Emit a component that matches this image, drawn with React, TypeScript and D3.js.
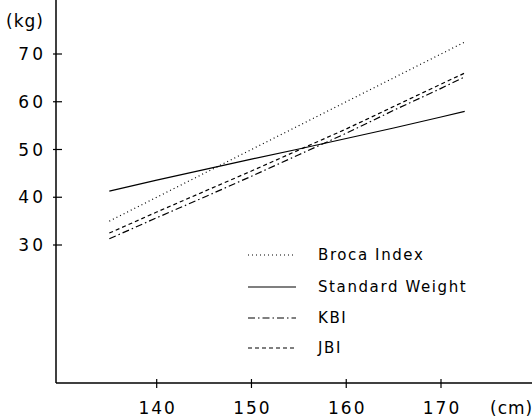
import React from 'react';
import * as d3 from 'd3';

const heights = [135, 140, 145, 150, 155, 160, 165, 170, 172.5];

// weights (kg)
const brocaIndex = [35, 40, 45, 50, 55, 60, 65, 70, 72.5];
const standardWeight = [41.3, 43.6, 45.8, 48.0, 50.1, 52.3, 54.5, 56.8, 58.0];
const kbi = [31.3, 35.7, 40.0, 44.4, 48.9, 53.4, 58.2, 62.8, 65.2];
const jbi = [32.5, 36.9, 41.2, 45.5, 49.9, 54.3, 59.0, 63.7, 66.0];

const xTicks = [140, 150, 160, 170];
const yTicks = [30, 40, 50, 60, 70];

interface Series {
  name: string;
  values: number[];
  dash: string;
}

const series: Series[] = [
  { name: 'Broca Index', values: brocaIndex, dash: '1,3' },
  { name: 'Standard Weight', values: standardWeight, dash: '' },
  { name: 'KBI', values: kbi, dash: '7,3,1.5,3' },
  { name: 'JBI', values: jbi, dash: '4,3' },
];

const W = 532;
const H = 417;
const FONT = '"DejaVu Sans ExtraLight", "DejaVu Sans", sans-serif';

export default function App() {
  const axisX = 56;
  const axisY = 383;

  const x = d3.scaleLinear().domain([140, 170]).range([156.7, 441]);
  const y = d3.scaleLinear().domain([30, 70]).range([245, 54]);

  const line = d3
    .line<number>()
    .x((_, i) => x(heights[i]))
    .y((d) => y(d));

  // legend placement
  const legX1 = 248;
  const legX2 = 296;
  const legText = 318;
  const legRows = [255, 287, 318, 348];

  return (
    <svg
      width={W}
      height={H}
      style={{ position: 'absolute', left: 0, top: 0, background: '#fff' }}
      fontFamily={FONT}
    >
      {/* axes */}
      <line x1={axisX} x2={axisX} y1={0} y2={axisY} stroke="#000" strokeWidth={1.5} />
      <line x1={axisX} x2={W} y1={axisY} y2={axisY} stroke="#000" strokeWidth={1.5} />

      {yTicks.map((t) => (
        <g key={t}>
          <line x1={axisX - 3} x2={axisX + 6} y1={y(t)} y2={y(t)} stroke="#000" strokeWidth={1.2} />
          <text
            x={46}
            y={y(t)}
            textAnchor="end"
            dominantBaseline="central"
            fontSize={17}
            letterSpacing={3}
            fill="#000"
          >
            {t}
          </text>
        </g>
      ))}
      <text x={6} y={21} dominantBaseline="central" fontSize={17} letterSpacing={1} fill="#000">
        (kg)
      </text>

      {xTicks.map((t) => (
        <g key={t}>
          <line x1={x(t)} x2={x(t)} y1={axisY - 4} y2={axisY + 5} stroke="#000" strokeWidth={1.2} />
          <text
            x={x(t) + 1}
            y={408}
            textAnchor="middle"
            dominantBaseline="central"
            fontSize={17}
            letterSpacing={2}
            fill="#000"
          >
            {t}
          </text>
        </g>
      ))}
      <text x={490} y={408} dominantBaseline="central" fontSize={17} letterSpacing={1} fill="#000">
        (cm)
      </text>

      {/* curves */}
      {series.map((s) => (
        <path
          key={s.name}
          d={line(s.values) ?? ''}
          fill="none"
          stroke="#000"
          strokeWidth={1.2}
          strokeDasharray={s.dash || undefined}
        />
      ))}

      {/* legend */}
      {series.map((s, i) => (
        <g key={s.name}>
          <line
            x1={legX1}
            x2={legX2}
            y1={legRows[i]}
            y2={legRows[i]}
            stroke="#000"
            strokeWidth={1.1}
            strokeDasharray={s.dash || undefined}
          />
          <text
            x={legText}
            y={legRows[i]}
            dominantBaseline="central"
            fontSize={15}
            letterSpacing={1.6}
            fill="#000"
          >
            {s.name}
          </text>
        </g>
      ))}
    </svg>
  );
}
